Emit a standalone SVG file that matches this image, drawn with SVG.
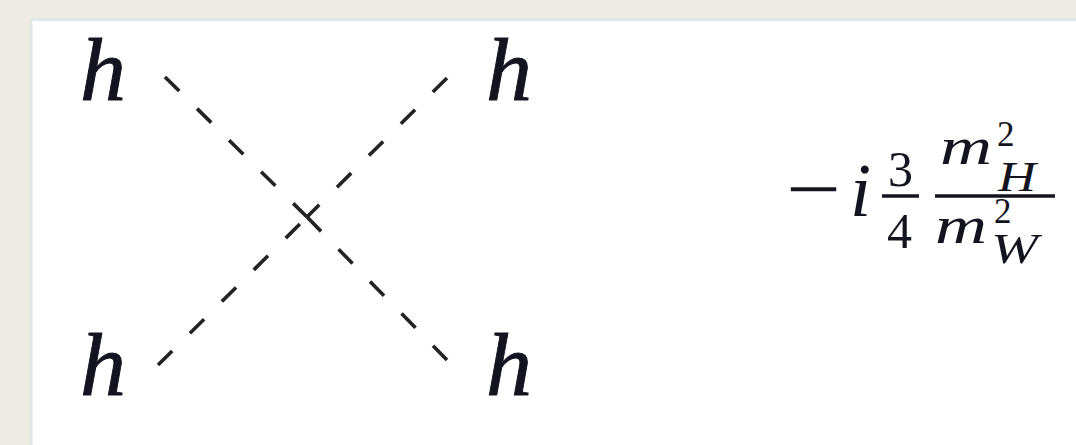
<svg xmlns="http://www.w3.org/2000/svg" width="1076" height="445" viewBox="0 0 1076 445">
  <defs>
    <style>
      .prop { stroke: #232323; stroke-width: 3.6; stroke-dasharray: 20 25; fill: none; stroke-linecap: butt; }
      .lbl { font-family: "Liberation Serif", "Times New Roman", serif; font-style: italic; fill: #141420; }
      .hl { stroke: #141420; stroke-width: 0.9; }
      .rm { font-family: "Liberation Serif", "Times New Roman", serif; fill: #141420; }
      .bar { stroke: #141420; stroke-width: 3.5; }
    </style>
  </defs>
  <rect x="0" y="0" width="1076" height="445" fill="#eeebe5"/>
  <rect x="31" y="19.5" width="1100" height="500" fill="#ffffff" stroke="#e1e7e4" stroke-width="3"/>

  <g id="connectors">
    <line class="prop" x1="165" y1="77" x2="307" y2="217"/>
    <line class="prop" x1="447" y1="360" x2="307" y2="217"/>
    <line class="prop" x1="447" y1="78" x2="307" y2="217"/>
    <line class="prop" x1="158" y1="365" x2="307" y2="217"/>
  </g>

  <g id="h-top-left"><text class="lbl hl" x="80" y="100" font-size="88" textLength="46" lengthAdjust="spacingAndGlyphs">h</text></g>
  <g id="h-top-right"><text class="lbl hl" x="486" y="100" font-size="88" textLength="46" lengthAdjust="spacingAndGlyphs">h</text></g>
  <g id="h-bottom-left"><text class="lbl hl" x="80" y="395" font-size="88" textLength="46" lengthAdjust="spacingAndGlyphs">h</text></g>
  <g id="h-bottom-right"><text class="lbl hl" x="486" y="395" font-size="88" textLength="46" lengthAdjust="spacingAndGlyphs">h</text></g>

  <g id="vertex-factor">
    <text class="rm" x="786" y="216" font-size="80" textLength="55" lengthAdjust="spacingAndGlyphs">−</text>
    <text class="lbl" x="850" y="216" font-size="76">i</text>
    <text class="rm" x="888" y="186" font-size="50">3</text>
    <line class="bar" x1="882" y1="196" x2="919" y2="196"/>
    <text class="rm" x="887" y="248" font-size="50">4</text>
    <text class="lbl" x="940" y="164" font-size="52" textLength="52" lengthAdjust="spacingAndGlyphs">m</text>
    <text class="rm" x="997" y="146" font-size="35">2</text>
    <text class="lbl" x="998" y="191" font-size="43" textLength="38" lengthAdjust="spacingAndGlyphs">H</text>
    <line class="bar" x1="935" y1="196" x2="1055" y2="196"/>
    <text class="lbl" x="935" y="243" font-size="52" textLength="52" lengthAdjust="spacingAndGlyphs">m</text>
    <text class="rm" x="994" y="223" font-size="35">2</text>
    <text class="lbl" x="991" y="263" font-size="43" textLength="47" lengthAdjust="spacingAndGlyphs">W</text>
  </g>
</svg>
